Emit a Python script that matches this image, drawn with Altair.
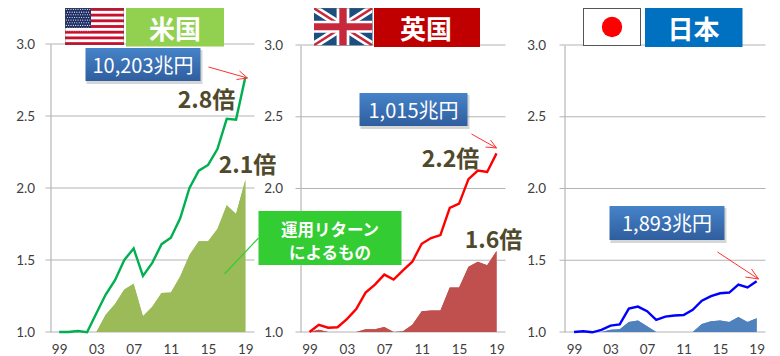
import base64
import altair as alt

YEARS = ["99","00","01","02","03","04","05","06","07","08","09","10","11","12","13","14","15","16","17","18","19"]
TICKS = ["99","03","07","11","15","19"]

US_LINE = [1.0,1.0,1.007,0.998,1.13,1.26,1.36,1.50,1.58,1.39,1.48,1.61,1.655,1.79,2.0,2.12,2.16,2.27,2.48,2.475,2.77]
US_AREA = [None,None,None,None,1.0,1.12,1.195,1.295,1.335,1.11,1.175,1.27,1.275,1.385,1.535,1.63,1.63,1.715,1.88,1.82,2.055]
UK_LINE = [1.0,1.05,1.03,1.033,1.09,1.16,1.275,1.33,1.40,1.365,1.43,1.49,1.615,1.655,1.675,1.865,1.895,2.065,2.125,2.115,2.245]
UK_AREA = [1.0,1.015,1.0,1.0,1.0,1.0,1.02,1.02,1.035,1.0,1.005,1.05,1.145,1.15,1.15,1.31,1.31,1.455,1.49,1.465,1.565]
JP_LINE = [1.0,1.005,0.998,1.015,1.045,1.053,1.163,1.177,1.145,1.085,1.107,1.115,1.118,1.155,1.218,1.25,1.27,1.275,1.33,1.31,1.353]
JP_AREA = [1.0,1.0,1.0,1.0,1.015,1.02,1.07,1.08,1.04,1.0,1.0,1.0,1.0,1.0,1.055,1.075,1.08,1.07,1.105,1.07,1.095]

GRID = [1.0, 1.5, 2.0, 2.5, 3.0]
JP = "Noto Sans CJK JP"
TICK_FONT = "Lato"
TEXT_DARK = "#4f4a2c"
WHITE_ROW = [{}]


def svg_uri(svg):
    return "data:image/svg+xml;base64," + base64.b64encode(svg.encode()).decode()


def us_flag():
    w, h = 59, 37
    s = h / 13
    parts = [f'<svg xmlns="http://www.w3.org/2000/svg" width="{w}" height="{h}" viewBox="0 0 {w} {h}">',
             f'<rect width="{w}" height="{h}" fill="#fff"/>']
    for i in range(0, 13, 2):
        parts.append(f'<rect y="{i*s}" width="{w}" height="{s}" fill="#c8102e"/>')
    parts.append(f'<rect width="26" height="{7*s}" fill="#1f2f66"/>')
    for r in range(9):
        for c in range(11 if r % 2 == 0 else 10):
            x = 1.3 + c * 2.35 + (0 if r % 2 == 0 else 1.17)
            parts.append(f'<circle cx="{x}" cy="{1.5 + r*2.65}" r="0.55" fill="#fff"/>')
    parts.append(f'<rect width="{w}" height="{h}" fill="none" stroke="#555" stroke-width="0.6"/></svg>')
    return svg_uri("".join(parts))


def uk_flag():
    return svg_uri(
        '<svg xmlns="http://www.w3.org/2000/svg" width="59" height="37.5" viewBox="0 0 60 40" preserveAspectRatio="none">'
        '<rect width="60" height="40" fill="#1c4f80"/>'
        '<path d="M0 0L60 40M60 0L0 40" stroke="#fff" stroke-width="8"/>'
        '<path d="M0 0L60 40M60 0L0 40" stroke="#c8283c" stroke-width="2.6"/>'
        '<path d="M30 0V40M0 20H60" stroke="#fff" stroke-width="13"/>'
        '<path d="M30 0V40M0 20H60" stroke="#c8283c" stroke-width="7.5"/>'
        '<rect width="60" height="40" fill="none" stroke="#666" stroke-width="0.8"/></svg>')


def jp_flag():
    return svg_uri(
        '<svg xmlns="http://www.w3.org/2000/svg" width="58" height="38" viewBox="0 0 58 38">'
        '<rect x="0.5" y="0.5" width="57" height="37" fill="#fff" stroke="#555" stroke-width="1"/>'
        '<circle cx="29" cy="19" r="10.2" fill="#ff0000"/></svg>')


BLUE_GRAD = alt.Gradient(gradient="linear", x1=0, y1=0, x2=0, y2=1,
                         stops=[alt.GradientStop(offset=0, color="#4683c9"),
                                alt.GradientStop(offset=1, color="#2f5e9e")])


class Panel:
    def __init__(self, ox, oy=44):
        self.ox, self.oy = ox, oy

    def box(self, x0, y0, x1, y1, fill, **kw):
        return alt.Chart(alt.Data(values=WHITE_ROW)).mark_rect(fill=fill, **kw).encode(
            x=alt.value(x0 - self.ox), x2=alt.value(x1 - self.ox),
            y=alt.value(y0 - self.oy), y2=alt.value(y1 - self.oy))

    def seg(self, x0, y0, x1, y1, color, width=1.0):
        return alt.Chart(alt.Data(values=WHITE_ROW)).mark_rule(color=color, strokeWidth=width).encode(
            x=alt.value(x0 - self.ox), x2=alt.value(x1 - self.ox),
            y=alt.value(y0 - self.oy), y2=alt.value(y1 - self.oy))

    def gridlines(self, top, bottom, right):
        # One thin bar per GRID value, placed on the same 1.0-3.0 span as the y scale.
        out = []
        for g in GRID:
            y = top + (3.0 - g) / 2.0 * (bottom - top)
            out.append(self.box(self.ox - 5, y - 0.5, right, y + 0.5, "#b4b4b4"))
        return out

    def text(self, s, x, y, size, color, weight="bold", font=JP):
        return alt.Chart(alt.Data(values=[{"t": s}])).mark_text(
            font=font, fontSize=size, fontWeight=weight, color=color, align="center", baseline="middle"
        ).encode(x=alt.value(x - self.ox), y=alt.value(y - self.oy), text="t:N")

    def flag(self, url, x, y, w, h):
        return alt.Chart(alt.Data(values=WHITE_ROW)).mark_image(
            url=url, width=w, height=h, align="left", baseline="top", aspect=False
        ).encode(x=alt.value(x - self.ox), y=alt.value(y - self.oy))

    def arrow(self, x0, y0, x1, y1, h1, h2):
        return [self.seg(x0, y0, x1, y1, "#ff3030"),
                self.seg(h1[0], h1[1], x1, y1, "#ff3030"),
                self.seg(h2[0], h2[1], x1, y1, "#ff3030")]

    def callout(self, s, x0, y0, x1, y1):
        return [self.box(x0 + 1, y0 + 2, x1 + 2, y1 + 3, "#8a8a8a", opacity=0.35),
                self.box(x0, y0, x1, y1, BLUE_GRAD),
                self.text(s, (x0 + x1) / 2, (y0 + y1) / 2 + 2, 20, "#ffffff", weight="normal")]


def base_layers(grid, line, area, line_color, area_color, xr, yr, label_pad):
    rows = [{"year": y, "line": l, "area": a, "floor": 1.0} for y, l, a in zip(YEARS, line, area)]
    data = alt.Data(values=rows)
    scale_y = alt.Scale(domain=[1.0, 3.0], range=yr, nice=False, zero=False)
    x = alt.X("year:N", title=None, sort=None,
              scale=alt.Scale(type="point", domain=YEARS, range=xr),
              axis=alt.Axis(values=TICKS, labelAngle=0, domain=False, ticks=False, grid=False,
                            labelFont=TICK_FONT, labelFontSize=13.5, labelColor="#404040",
                            labelPadding=17.5, labelOverlap=False, labelBaseline="middle"))
    y_axis = alt.Axis(values=GRID, format=".1f", grid=False, domain=True, domainColor="#c4c4c4",
                      domainWidth=1.5, ticks=False,
                      labelFont=TICK_FONT, labelFontSize=13.5, labelColor="#404040",
                      labelPadding=label_pad + 5)
    ar = alt.Chart(data).transform_filter("datum.area != null").mark_area(color=area_color, opacity=1).encode(
        x=x, y=alt.Y("area:Q", title=None, stack=None, scale=scale_y, axis=None),
        y2="floor:Q")
    ln = alt.Chart(data).mark_line(color=line_color, strokeWidth=2.4, clip=False).encode(
        x=x, y=alt.Y("line:Q", title=None, scale=scale_y, axis=y_axis))
    # The area is drawn again above the gridlines so that it hides them.
    return [ar] + grid + [ar, ln]


def assemble(layers, w):
    return alt.layer(*layers).resolve_axis(y="independent").properties(width=w, height=288)


# --- Panel 1: United States
p1 = Panel(50)
layers1 = base_layers(p1.gridlines(44, 332, 254), US_LINE, US_AREA, "#00b050", "#9bbb59", [4, 199.5], [288, 0], 11)
layers1 += [p1.seg(258, 238, 224, 274, "#33cc33", 1.2)]
layers1 += [p1.flag(us_flag(), 64.5, 8, 59, 37),
            p1.box(125.5, 8, 223.5, 46.5, "#92d050"),
            p1.text("米国", 174.5, 30.5, 26, "#ffffff")]
layers1 += p1.callout("10,203兆円", 85, 48, 200, 81)
layers1 += p1.arrow(208, 67, 247, 78, (236, 79.5), (239, 71))
layers1 += [p1.text("2.8倍", 206, 101, 23, TEXT_DARK), p1.text("2.1倍", 247, 166, 23, TEXT_DARK)]
c1 = assemble(layers1, 204)

# --- Panel 2: United Kingdom (wider cell, its right part holds the gap to the next panel)
p2 = Panel(300)
layers2 = base_layers(p2.gridlines(45, 332, 505), UK_LINE, UK_AREA, "#ff0000", "#c0504d", [4.3, 200.7], [288, 1], 13)
layers2 += [p2.flag(uk_flag(), 313, 8, 59, 37.5),
            p2.box(373.5, 8, 479.5, 47, "#c00000"),
            p2.text("英国", 425.5, 30.5, 26, "#ffffff")]
layers2 += p2.callout("1,015兆円", 359, 93, 467, 126)
layers2 += p2.arrow(471, 134, 496, 148, (485, 147), (490, 140))
layers2 += [p2.text("2.2倍", 450, 160, 23, TEXT_DARK), p2.text("1.6倍", 493, 241, 23, TEXT_DARK)]
layers2 += [p2.box(258, 211, 401, 265, "#33cc33"),
            p2.text("運用リターン", 329.5, 231, 16.5, "#ffffff"),
            p2.text("によるもの", 329.5, 254, 16.5, "#ffffff")]
c2 = assemble(layers2, 218)

# --- Panel 3: Japan
p3 = Panel(564)
layers3 = base_layers(p3.gridlines(45, 332, 765), JP_LINE, JP_AREA, "#0000ff", "#4f81bd", [5, 196.7], [288, 1], 14)
layers3 += [p3.flag(jp_flag(), 582.5, 8, 58, 38),
            p3.box(644.5, 8, 742, 47, "#0070c0"),
            p3.text("日本", 693, 30.5, 26, "#ffffff")]
layers3 += p3.callout("1,893兆円", 609, 206, 724, 240)
layers3 += p3.arrow(717, 252, 758, 279, (745, 277), (751, 269))
c3 = assemble(layers3, 201)

chart = alt.hconcat(c1, c2, c3, spacing=46, bounds="flush").properties(
    padding={"left": 7.5, "top": 0, "right": 0, "bottom": 0}, background="#ffffff"
).configure_view(stroke=None)

chart.save("out.html", embed_options={"renderer": "svg", "actions": False})
